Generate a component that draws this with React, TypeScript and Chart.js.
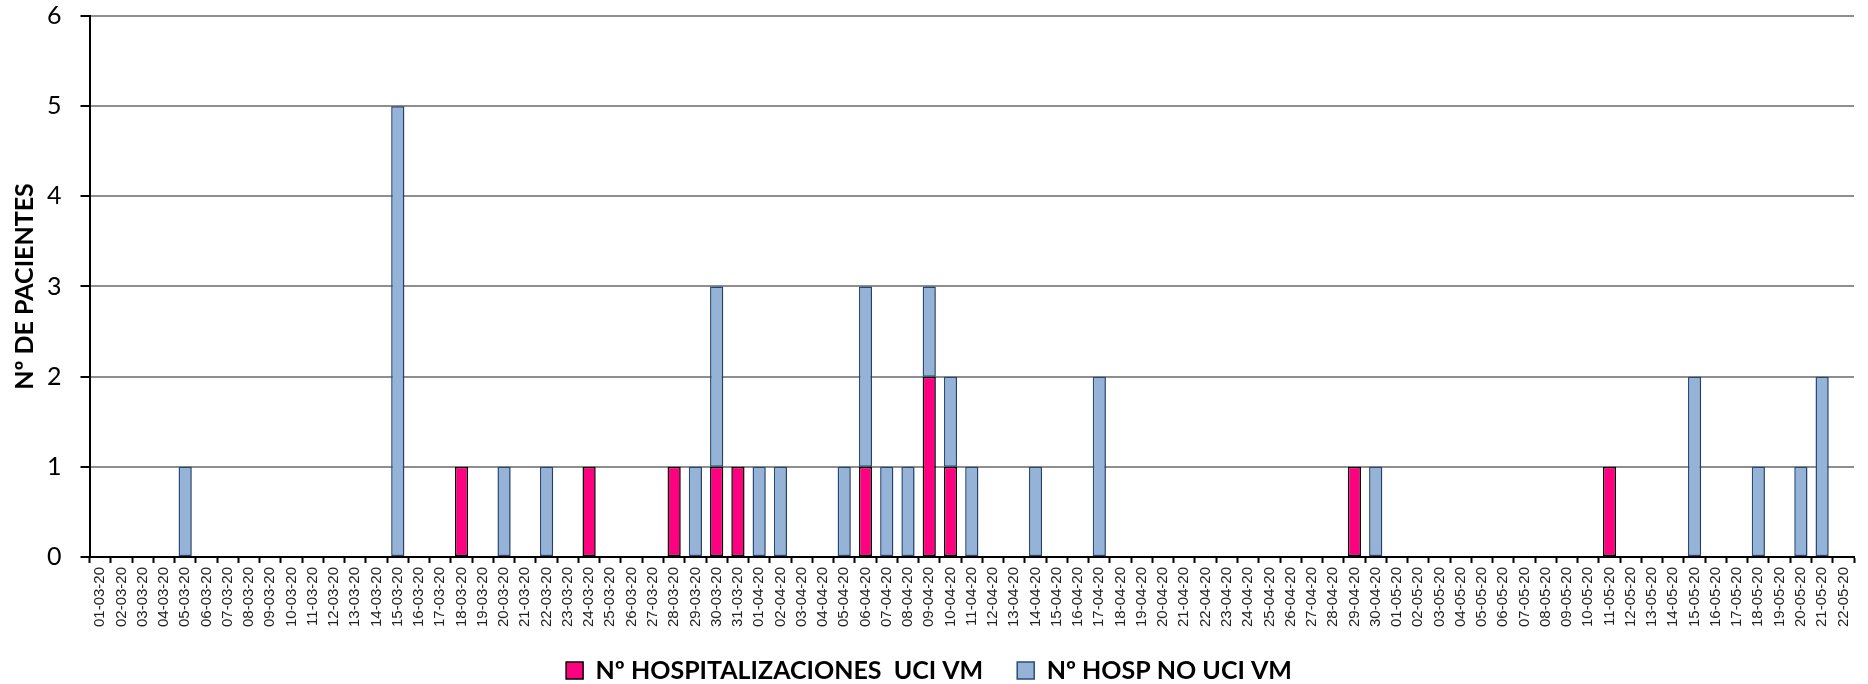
import { useEffect, useRef } from 'react';
import { Chart, registerables } from 'chart.js';
Chart.register(...registerables);

const categories = [
  '01-03-20', '02-03-20', '03-03-20', '04-03-20', '05-03-20', '06-03-20', '07-03-20', '08-03-20', '09-03-20', '10-03-20',
  '11-03-20', '12-03-20', '13-03-20', '14-03-20', '15-03-20', '16-03-20', '17-03-20', '18-03-20', '19-03-20', '20-03-20',
  '21-03-20', '22-03-20', '23-03-20', '24-03-20', '25-03-20', '26-03-20', '27-03-20', '28-03-20', '29-03-20', '30-03-20',
  '31-03-20',
  '01-04-20', '02-04-20', '03-04-20', '04-04-20', '05-04-20', '06-04-20', '07-04-20', '08-04-20', '09-04-20', '10-04-20',
  '11-04-20', '12-04-20', '13-04-20', '14-04-20', '15-04-20', '16-04-20', '17-04-20', '18-04-20', '19-04-20', '20-04-20',
  '21-04-20', '22-04-20', '23-04-20', '24-04-20', '25-04-20', '26-04-20', '27-04-20', '28-04-20', '29-04-20', '30-04-20',
  '01-05-20', '02-05-20', '03-05-20', '04-05-20', '05-05-20', '06-05-20', '07-05-20', '08-05-20', '09-05-20', '10-05-20',
  '11-05-20', '12-05-20', '13-05-20', '14-05-20', '15-05-20', '16-05-20', '17-05-20', '18-05-20', '19-05-20', '20-05-20',
  '21-05-20', '22-05-20',
];

// Nº HOSPITALIZACIONES UCI VM
const uciVM = [
  0, 0, 0, 0, 0, 0, 0, 0, 0, 0,
  0, 0, 0, 0, 0, 0, 0, 1, 0, 0,
  0, 0, 0, 1, 0, 0, 0, 1, 0, 1,
  1,
  0, 0, 0, 0, 0, 1, 0, 0, 2, 1,
  0, 0, 0, 0, 0, 0, 0, 0, 0, 0,
  0, 0, 0, 0, 0, 0, 0, 0, 1, 0,
  0, 0, 0, 0, 0, 0, 0, 0, 0, 0,
  1, 0, 0, 0, 0, 0, 0, 0, 0, 0,
  0, 0,
];

// Nº HOSP NO UCI VM
const noUciVM = [
  0, 0, 0, 0, 1, 0, 0, 0, 0, 0,
  0, 0, 0, 0, 5, 0, 0, 0, 0, 1,
  0, 1, 0, 0, 0, 0, 0, 0, 1, 2,
  0,
  1, 1, 0, 0, 1, 2, 1, 1, 1, 1,
  1, 0, 0, 1, 0, 0, 2, 0, 0, 0,
  0, 0, 0, 0, 0, 0, 0, 0, 0, 1,
  0, 0, 0, 0, 0, 0, 0, 0, 0, 0,
  0, 0, 0, 0, 2, 0, 0, 1, 0, 1,
  2, 0,
];

const yTicks = [0, 1, 2, 3, 4, 5, 6];
const seriesLabels = ['Nº HOSPITALIZACIONES  UCI VM', 'Nº HOSP NO UCI VM'];

// moves the legend up a few pixels after layout (closer to the axis labels)
const legendNudge = {
  id: 'legendNudge',
  afterLayout(chart: any) {
    const l = chart.legend;
    if (l) {
      l.top -= 7;
      l.bottom -= 7;
    }
  },
};

// soft Excel-like shadow behind the bars
const barShadow = {
  id: 'barShadow',
  beforeDatasetsDraw(chart: any) {
    const ctx = chart.ctx;
    ctx.save();
    ctx.shadowColor = 'rgba(0,0,0,0.22)';
    ctx.shadowBlur = 4;
    ctx.shadowOffsetX = 2;
    ctx.shadowOffsetY = 0;
  },
  afterDatasetsDraw(chart: any) {
    chart.ctx.restore();
  },
};

export default function App() {
  const ref = useRef<HTMLCanvasElement>(null);
  useEffect(() => {
    document.body.style.margin = '0';
    const chart = new Chart(ref.current!, {
      type: 'bar',
      data: {
        labels: categories,
        datasets: [
          {
            label: seriesLabels[0],
            data: uciVM.map((v) => (v ? v : null)),
            backgroundColor: '#FF0080',
            borderColor: '#000000',
            borderWidth: 1.5,
            borderSkipped: false,
          },
          {
            label: seriesLabels[1],
            data: noUciVM.map((v) => (v ? v : null)),
            backgroundColor: '#95B3D7',
            borderColor: '#2A4C7E',
            borderWidth: 1.5,
            borderSkipped: false,
          },
        ],
      },
      plugins: [legendNudge, barShadow],
      options: {
        responsive: false,
        animation: false,
        layout: { padding: { left: 4, right: 14, top: 0, bottom: -16 } },
        datasets: { bar: { categoryPercentage: 1, barPercentage: 0.62 } },
        scales: {
          x: {
            stacked: true,
            grid: { offset: true, drawOnChartArea: false, drawTicks: true, tickLength: 6, tickColor: '#000', tickWidth: 2 },
            border: { color: '#000', width: 2 },
            ticks: {
              autoSkip: false,
              maxRotation: 90,
              minRotation: 90,
              padding: 4,
              font: { family: 'Liberation Sans', size: 15 },
              color: '#222',
            },
          },
          y: {
            stacked: true,
            min: 0,
            max: 6,
            afterBuildTicks: (axis: any) => {
              axis.ticks = yTicks.map((v) => ({ value: v }));
            },
            afterFit: (scale: any) => {
              scale.width -= 13;
              scale.paddingTop = 16;
            },
            grid: { color: '#8E8E8E', lineWidth: 2, tickColor: '#000', tickLength: 9, tickWidth: 2 },
            border: { color: '#000', width: 2 },
            ticks: { padding: 19, font: { family: 'Lato', size: 25 }, color: '#000' },
            title: {
              display: true,
              text: 'Nº DE PACIENTES',
              font: { family: 'Lato', size: 25, weight: 'bold' },
              color: '#000',
              padding: { top: 6, bottom: 1 },
            },
          },
        },
        plugins: {
          legend: {
            position: 'bottom',
            labels: {
              boxWidth: 17,
              boxHeight: 17,
              padding: 34,
              font: { family: 'Lato', size: 25, weight: 'bold' },
              color: '#000',
            },
          },
          tooltip: { enabled: false },
        },
      },
    });
    return () => chart.destroy();
  }, []);
  return <canvas ref={ref} width={1868} height={684} style={{ display: 'block' }} />;
}
